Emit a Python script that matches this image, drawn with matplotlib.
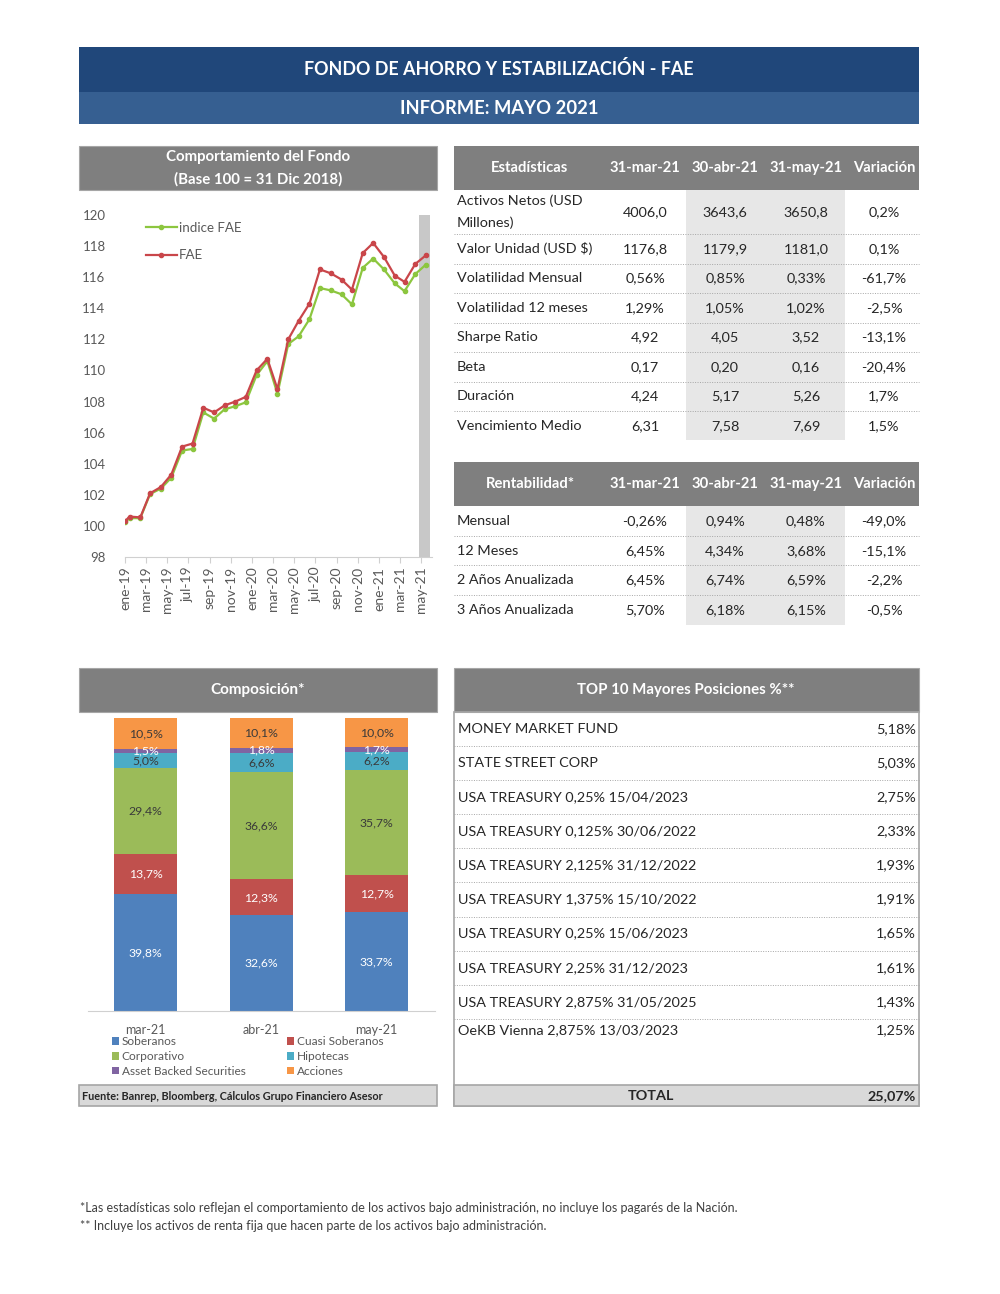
import pandas as pd
import matplotlib
matplotlib.use("Agg")
import matplotlib.pyplot as plt
from matplotlib.patches import Rectangle

plt.rcParams['font.family'] = ['Lato', 'DejaVu Sans']

# ---- datos: comportamiento del fondo (base 100 = 31 dic 2018)
fae = [100.3, 100.6, 100.55, 102.1, 102.5, 103.3, 105.1, 105.3, 107.6, 107.3,
       107.75, 108.0, 108.3, 110.0, 110.75, 108.8, 112.0, 113.2, 114.3, 116.5,
       116.25, 115.85, 115.2, 117.55, 118.2, 117.3, 116.1, 115.7, 116.85, 117.4]
indice_fae = [100.25, 100.5, 100.5, 102.05, 102.4, 103.1, 104.85, 104.95, 107.3, 106.9,
              107.5, 107.7, 107.95, 109.7, 110.6, 108.5, 111.7, 112.2, 113.3, 115.3,
              115.15, 114.9, 114.25, 116.6, 117.2, 116.5, 115.6, 115.1, 116.2, 116.8]
meses = ['ene', 'feb', 'mar', 'abr', 'may', 'jun', 'jul', 'ago', 'sep', 'oct', 'nov', 'dic']

# ---- composicion
comp_fechas = ['mar-21', 'abr-21', 'may-21']
comp_series = ['Soberanos', 'Cuasi Soberanos', 'Corporativo', 'Hipotecas',
               'Asset Backed Securities', 'Acciones']
soberanos = [39.8, 32.6, 33.7]
cuasi = [13.7, 12.3, 12.7]
corporativo = [29.4, 36.6, 35.7]
hipotecas = [5.0, 6.6, 6.2]
abs_sec = [1.5, 1.8, 1.7]
acciones = [10.5, 10.1, 10.0]
comp_colores = ['#4f81bd', '#c0504d', '#9bbb59', '#4bacc6', '#8064a2', '#f79646']
comp_txt = ['white', 'white', '#3a3a3a', '#3a3a3a', 'white', '#3a3a3a']

# ---- estadisticas
cols = ['31-mar-21', '30-abr-21', '31-may-21', 'Variación']
stat_labels = ['Activos Netos (USD\nMillones)', 'Valor Unidad (USD $)', 'Volatilidad Mensual',
               'Volatilidad 12 meses', 'Sharpe Ratio', 'Beta', 'Duración', 'Vencimiento Medio']
stat_mar = ['4006,0', '1176,8', '0,56%', '1,29%', '4,92', '0,17', '4,24', '6,31']
stat_abr = ['3643,6', '1179,9', '0,85%', '1,05%', '4,05', '0,20', '5,17', '7,58']
stat_may = ['3650,8', '1181,0', '0,33%', '1,02%', '3,52', '0,16', '5,26', '7,69']
stat_var = ['0,2%', '0,1%', '-61,7%', '-2,5%', '-13,1%', '-20,4%', '1,7%', '1,5%']

rent_labels = ['Mensual', '12 Meses', '2 Años Anualizada', '3 Años Anualizada']
rent_mar = ['-0,26%', '6,45%', '6,45%', '5,70%']
rent_abr = ['0,94%', '4,34%', '6,74%', '6,18%']
rent_may = ['0,48%', '3,68%', '6,59%', '6,15%']
rent_var = ['-49,0%', '-15,1%', '-2,2%', '-0,5%']

top_names = ['MONEY MARKET FUND', 'STATE STREET CORP', 'USA TREASURY 0,25% 15/04/2023',
             'USA TREASURY 0,125% 30/06/2022', 'USA TREASURY 2,125% 31/12/2022',
             'USA TREASURY 1,375% 15/10/2022', 'USA TREASURY 0,25% 15/06/2023',
             'USA TREASURY 2,25% 31/12/2023', 'USA TREASURY 2,875% 31/05/2025',
             'OeKB Vienna 2,875% 13/03/2023']
top_pct = ['5,18%', '5,03%', '2,75%', '2,33%', '1,93%', '1,91%', '1,65%', '1,61%', '1,43%', '1,25%']
top_total = '25,07%'

W, H = 1000, 1294
TXT = '#262626'
GRIS = '#7f7f7f'
FS = 10.4


def rect(x0, y0, x1, y1):
    return [x0 / W, 1 - y1 / H, (x1 - x0) / W, (y1 - y0) / H]


fig = plt.figure(figsize=(10, 12.94), dpi=100)
page = fig.add_axes([0, 0, 1, 1])
page.set_xlim(0, W)
page.set_ylim(H, 0)
page.axis('off')


def box(x0, y0, x1, y1, fc, ec='none', lw=0.8):
    page.add_patch(Rectangle((x0, y0), x1 - x0, y1 - y0, facecolor=fc, edgecolor=ec, lw=lw))


def txt(x, y, s, ha='left', size=FS, color=TXT, weight='normal', **kw):
    page.text(x, y, s, ha=ha, va='center', fontsize=size, color=color, fontweight=weight, **kw)


def dotted(x0, x1, y):
    page.plot([x0, x1], [y, y], color='#a6a6a6', lw=0.7, ls=(0, (1, 1.5)))


# encabezado
box(79, 47, 919, 92, '#20477a')
box(79, 92, 919, 124, '#365f91')
txt(499, 69, 'FONDO DE AHORRO Y ESTABILIZACIÓN - FAE', ha='center', size=12.9, color='white', weight='bold')
txt(499, 108, 'INFORME: MAYO 2021', ha='center', size=13.2, color='white', weight='bold')

# ---- panel comportamiento
box(79, 146, 437, 190, GRIS, ec='#a6a6a6')
txt(258, 157, 'Comportamiento del Fondo', ha='center', size=10.8, color='white', weight='bold')
txt(258, 179, '(Base 100 = 31 Dic 2018)', ha='center', size=10.8, color='white', weight='bold')

fechas = pd.DatetimeIndex([pd.Timestamp('2019-01-01')]).append(
    pd.date_range('2019-01-01', '2021-05-01', freq='MS') + pd.Timedelta(days=13))
ticks = pd.date_range('2019-01-01', '2021-05-01', freq='2MS')

lax = fig.add_axes(rect(125, 215, 432, 557))
lax.patch.set_alpha(0)
lax.axvspan(pd.Timestamp('2021-04-25'), pd.Timestamp('2021-05-26'), color='#c8c8c8', zorder=0, lw=0)
lax.plot(fechas, indice_fae, color='#8cc63f', lw=1.6, marker='o', ms=3, label='indice FAE', zorder=3)
lax.plot(fechas, fae, color='#c9464a', lw=1.6, marker='o', ms=3, label='FAE', zorder=3)
lax.set_xlim(pd.Timestamp('2019-01-01'), pd.Timestamp('2021-06-01'))
lax.set_ylim(98, 120)
lax.set_yticks(range(98, 121, 2))
lax.set_xticks(ticks)
lax.set_xticklabels([f"{meses[d.month - 1]}-{d.year % 100}" for d in ticks], rotation=90)
for s in ['top', 'right', 'left']:
    lax.spines[s].set_visible(False)
lax.spines['bottom'].set_color('#d0d0d0')
lax.tick_params(axis='y', length=0, pad=14, labelsize=9.5, labelcolor='#595959')
lax.tick_params(axis='x', length=4, color='#d0d0d0', labelsize=10, labelcolor='#595959', pad=3)
lax.legend(loc='upper left', bbox_to_anchor=(0.068, 0.98), frameon=False, fontsize=9.6,
           labelcolor='#595959', borderpad=0, borderaxespad=0, labelspacing=1.15,
           handlelength=2.3, handletextpad=0.15)

# ---- tabla estadisticas
col_x = [645, 725, 806, 884]


def header(y0, y1, titulo):
    box(454, y0, 919, y1, GRIS)
    yc = (y0 + y1) / 2
    txt(530, yc, titulo, ha='center', color='white', weight='bold', size=10.6)
    for cx, c in zip(col_x, cols):
        txt(cx, yc, c, ha='center', color='white', weight='bold', size=10.6)


header(146, 190, 'Estadísticas')
box(686, 190, 845, 440, '#e7e7e7')
alturas = [44] + [29.5] * 7
y = 190
for i, lab in enumerate(stat_labels):
    yc = y + alturas[i] / 2
    if '\n' in lab:
        a, b = lab.split('\n')
        txt(457, yc - 11, a)
        txt(457, yc + 11, b)
    else:
        txt(457, yc, lab)
    for cx, v in zip(col_x, [stat_mar[i], stat_abr[i], stat_may[i], stat_var[i]]):
        txt(cx, yc, v, ha='center')
    y += alturas[i]
    if i < len(stat_labels) - 1:
        dotted(454, 919, y)

header(462, 506, 'Rentabilidad*')
box(686, 506, 845, 625, '#e7e7e7')
y = 506
for i, lab in enumerate(rent_labels):
    yc = y + 15
    txt(457, yc, lab)
    for cx, v in zip(col_x, [rent_mar[i], rent_abr[i], rent_may[i], rent_var[i]]):
        txt(cx, yc, v, ha='center')
    y += 29.7
    if i < len(rent_labels) - 1:
        dotted(454, 919, y)

# ---- composicion
box(79, 668, 437, 712, GRIS, ec='#a6a6a6')
txt(258, 690, 'Composición*', ha='center', color='white', weight='bold', size=11)

bax = fig.add_axes(rect(88, 718, 434.5, 1011))
bax.patch.set_alpha(0)
valores = [soberanos, cuasi, corporativo, hipotecas, abs_sec, acciones]
base = [0, 0, 0]
handles = []
for serie, vals, colr, tcol in zip(comp_series, valores, comp_colores, comp_txt):
    bc = bax.bar(comp_fechas, vals, bottom=base, width=0.545, color=colr, label=serie)
    bax.bar_label(bc, labels=[f'{v:.1f}%'.replace('.', ',') for v in vals], label_type='center',
                  color=tcol, fontsize=8.8)
    handles.append(bc)
    base = [b + v for b, v in zip(base, vals)]
bax.set_xlim(-0.5, 2.5)
bax.set_ylim(0, 100)
bax.set_yticks([])
for s in ['top', 'right', 'left']:
    bax.spines[s].set_visible(False)
bax.spines['bottom'].set_color('#d0d0d0')
bax.tick_params(axis='x', length=0, pad=9, labelsize=9, labelcolor='#595959')

orden = [0, 2, 4, 1, 3, 5]
page.legend([handles[i] for i in orden], [comp_series[i] for i in orden], loc='upper left',
            bbox_to_anchor=(112, 1036), bbox_transform=page.transData, ncol=2, frameon=False,
            fontsize=8.6, labelcolor='#595959', borderpad=0, borderaxespad=0, labelspacing=0.33,
            handlelength=0.6, handleheight=0.6, handletextpad=0.2, columnspacing=3.5)

box(79, 1085, 437, 1106, '#d9d9d9', ec='#a6a6a6', lw=1.2)
txt(82, 1096, 'Fuente: Banrep, Bloomberg, Cálculos Grupo Financiero Asesor', size=7.8, weight='bold')

# ---- top 10
box(454, 668, 919, 712, GRIS, ec='#a6a6a6')
txt(686, 690, 'TOP 10 Mayores Posiciones %**', ha='center', color='white', weight='bold', size=10.8)
box(454, 712, 919, 1106, 'none', ec='#a6a6a6', lw=1.2)
for i, (nom, pct) in enumerate(zip(top_names, top_pct)):
    if i < 9:
        yc = 729 + 34.1 * i
        dotted(454, 919, yc + 17)
    else:
        yc = 1030
    txt(458, yc, nom)
    txt(916, yc, pct, ha='right')
box(454, 1085, 919, 1106, '#d9d9d9', ec='#a6a6a6', lw=1.2)
txt(651, 1096, 'TOTAL', ha='center', weight='bold')
txt(916, 1096, top_total, ha='right', weight='bold')

# notas
txt(80, 1208, '*Las estadísticas solo reflejan el comportamiento de los activos bajo administración, '
              'no incluye los pagarés de la Nación.', size=9, color='#404040')
txt(80, 1226, '** Incluye los activos de renta fija que hacen parte de los activos bajo administración.',
    size=9, color='#404040')

fig.savefig('out.png', dpi=100, facecolor='white')
